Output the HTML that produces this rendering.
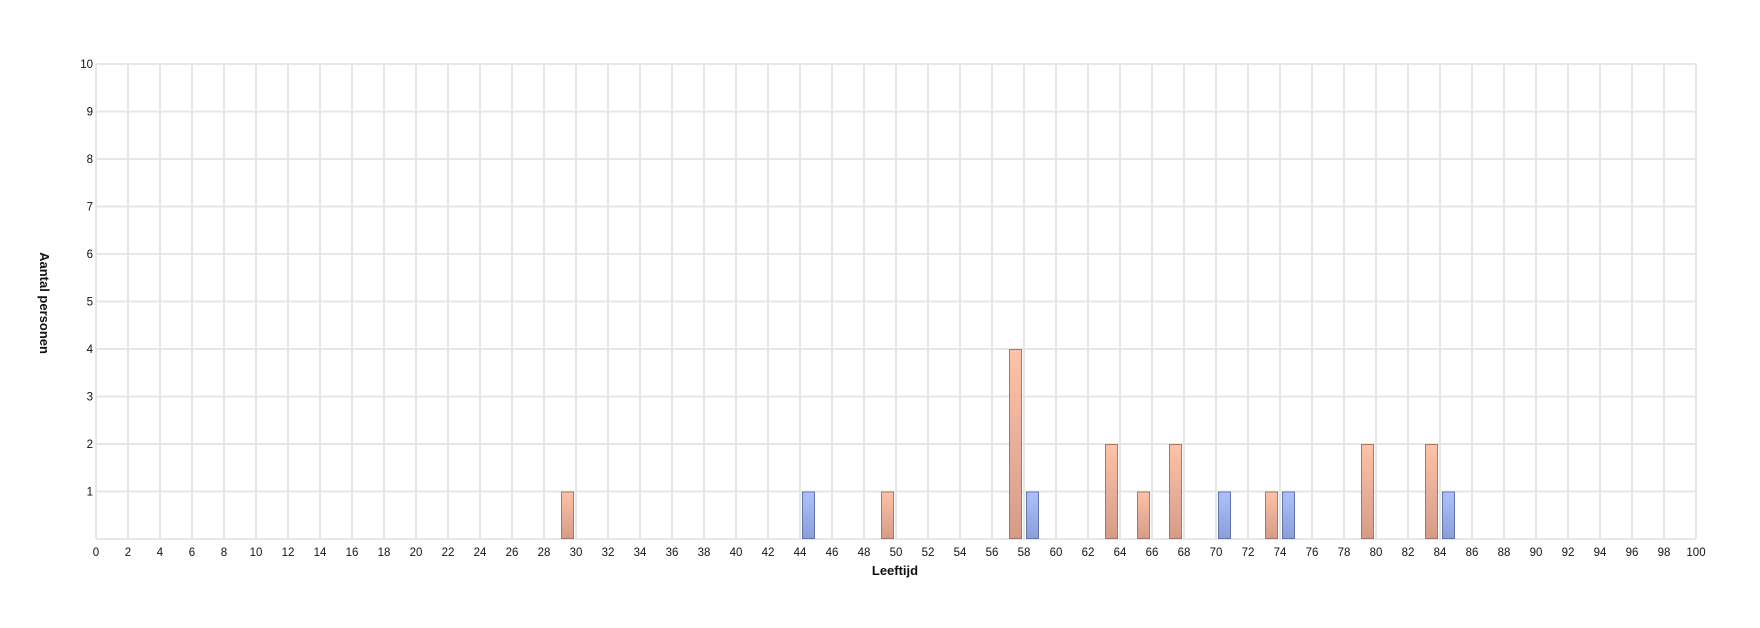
<!DOCTYPE html>
<html><head><meta charset="utf-8"><style>body{margin:0;background:#fff}svg{display:block}text{font-family:"Liberation Sans",sans-serif;fill:#111}</style></head><body>
<svg width="1760" height="628" viewBox="0 0 1760 628" xmlns="http://www.w3.org/2000/svg">
<defs>
<linearGradient id="o" x1="0" y1="0" x2="0" y2="1"><stop offset="0" stop-color="#ffc2aa"/><stop offset="1" stop-color="#d49c88"/></linearGradient>
<linearGradient id="b" x1="0" y1="0" x2="0" y2="1"><stop offset="0" stop-color="#a9c1ff"/><stop offset="1" stop-color="#8a9fd6"/></linearGradient>
</defs>
<g id="grid" stroke="#e6e6e6" stroke-width="2"></g>
<g id="bars"></g>
<g id="labels" font-size="11.5"></g>
<text x="895" y="575" font-size="13" font-weight="bold" text-anchor="middle">Leeftijd</text>
<text transform="translate(40,303) rotate(90)" font-size="13" font-weight="bold" text-anchor="middle">Aantal personen</text>
</svg>
<script>
const ns="http://www.w3.org/2000/svg";
const g=document.getElementById('grid'),bg=document.getElementById('bars'),lg=document.getElementById('labels');
function el(p,t,a){const e=document.createElementNS(ns,t);for(const k in a)e.setAttribute(k,a[k]);p.appendChild(e);return e;}
const X=v=>96+16*v, Y=v=>539-47.5*v;
for(let v=0;v<=100;v+=2){el(g,'line',{x1:X(v),x2:X(v),y1:Y(10),y2:Y(0)});const t=el(lg,'text',{x:X(v),y:556,'text-anchor':'middle'});t.textContent=v;}
for(let v=0;v<=10;v++){el(g,'line',{x1:X(0),x2:X(100),y1:Y(v),y2:Y(v)});if(v>0){const t=el(lg,'text',{x:93,y:Y(v)+4,'text-anchor':'end'});t.textContent=v;}}
const o=[[29,1],[49,1],[57,4],[63,2],[65,1],[67,2],[73,1],[79,2],[83,2]];
const b=[[44,1],[58,1],[70,1],[74,1],[84,1]];
o.forEach(([v,h])=>el(bg,'rect',{x:X(v)+1.5,y:Y(h)+0.5,width:12,height:47.5*h-1,fill:'url(#o)',stroke:'#a87565','stroke-width':1}));
b.forEach(([v,h])=>el(bg,'rect',{x:X(v)+2.5,y:Y(h)+0.5,width:12,height:47.5*h-1,fill:'url(#b)',stroke:'#6373aa','stroke-width':1}));
</script>
</body></html>
